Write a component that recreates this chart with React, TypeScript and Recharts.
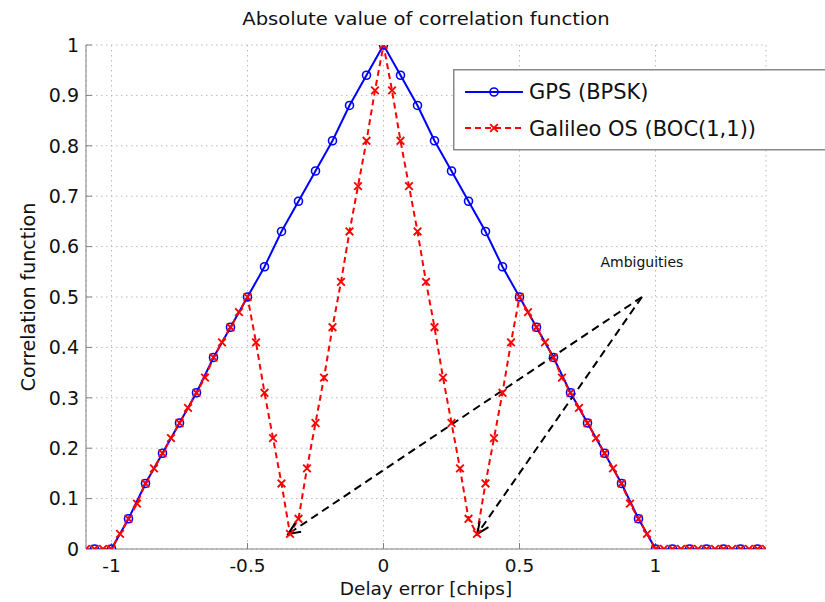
import { LineChart, Line, XAxis, YAxis, CartesianGrid, Legend, ReferenceLine, ReferenceDot, Label } from "recharts"

const gpsDelay = [
  -1.0625, -1, -0.9375, -0.875, -0.8125, -0.75, -0.6875, -0.625, -0.5625, -0.5,
  -0.4375, -0.375, -0.3125, -0.25, -0.1875, -0.125, -0.0625, 0, 0.0625, 0.125,
  0.1875, 0.25, 0.3125, 0.375, 0.4375, 0.5, 0.5625, 0.625, 0.6875, 0.75,
  0.8125, 0.875, 0.9375, 1, 1.0625, 1.125, 1.1875, 1.25, 1.3125, 1.375,
]
const gpsValue = [
  0, 0, 0.06, 0.13, 0.19, 0.25, 0.31, 0.38, 0.44, 0.5,
  0.56, 0.63, 0.69, 0.75, 0.81, 0.88, 0.94, 1, 0.94, 0.88,
  0.81, 0.75, 0.69, 0.63, 0.56, 0.5, 0.44, 0.38, 0.31, 0.25,
  0.19, 0.13, 0.06, 0, 0, 0, 0, 0, 0, 0,
]

const bocDelay = [
  -1.09375, -1.0625, -1.03125, -1, -0.96875, -0.9375, -0.90625, -0.875, -0.84375, -0.8125,
  -0.78125, -0.75, -0.71875, -0.6875, -0.65625, -0.625, -0.59375, -0.5625, -0.53125, -0.5,
  -0.46875, -0.4375, -0.40625, -0.375, -0.34375, -0.3125, -0.28125, -0.25, -0.21875, -0.1875,
  -0.15625, -0.125, -0.09375, -0.0625, -0.03125, 0, 0.03125, 0.0625, 0.09375, 0.125,
  0.15625, 0.1875, 0.21875, 0.25, 0.28125, 0.3125, 0.34375, 0.375, 0.40625, 0.4375,
  0.46875, 0.5, 0.53125, 0.5625, 0.59375, 0.625, 0.65625, 0.6875, 0.71875, 0.75,
  0.78125, 0.8125, 0.84375, 0.875, 0.90625, 0.9375, 0.96875, 1, 1.03125, 1.0625,
  1.09375, 1.125, 1.15625, 1.1875, 1.21875, 1.25, 1.28125, 1.3125, 1.34375, 1.375,
  1.40625,
]
const bocValue = [
  0, 0, 0, 0, 0.03, 0.06, 0.09, 0.13, 0.16, 0.19,
  0.22, 0.25, 0.28, 0.31, 0.34, 0.38, 0.41, 0.44, 0.47, 0.5,
  0.41, 0.31, 0.22, 0.13, 0.03, 0.06, 0.16, 0.25, 0.34, 0.44,
  0.53, 0.63, 0.72, 0.81, 0.91, 1, 0.91, 0.81, 0.72, 0.63,
  0.53, 0.44, 0.34, 0.25, 0.16, 0.06, 0.03, 0.13, 0.22, 0.31,
  0.41, 0.5, 0.47, 0.44, 0.41, 0.38, 0.34, 0.31, 0.28, 0.25,
  0.22, 0.19, 0.16, 0.13, 0.09, 0.06, 0.03, 0, 0, 0,
  0, 0, 0, 0, 0, 0, 0, 0, 0, 0,
  0,
]

const xTicks = [-1, -0.5, 0, 0.5, 1]
const yTicks = [0, 0.1, 0.2, 0.3, 0.4, 0.5, 0.6, 0.7, 0.8, 0.9, 1]

// arrows of the "Ambiguities" note: from the label anchor to the two side minima
const noteAnchor = { x: 0.95, y: 0.5 }
const noteTargets = [
  { x: -0.35, y: 0.03 },
  { x: 0.345, y: 0.03 },
]

const gpsData = gpsDelay.map((x, i) => ({ x, y: gpsValue[i] }))
const bocData = bocDelay.map((x, i) => ({ x, y: bocValue[i] }))

const FONT = '"DejaVu Sans", "Liberation Sans", Arial, sans-serif'

const CrossDot = (props: any) => {
  const { cx, cy } = props
  if (cx == null || cy == null) return <g />
  const s = 3.8
  return (
    <path
      d={`M${cx - s},${cy - s}L${cx + s},${cy + s}M${cx - s},${cy + s}L${cx + s},${cy - s}`}
      stroke="#ff0000"
      strokeWidth={1.9}
      fill="none"
    />
  )
}

const DashedArrow = (props: any) => {
  const { x1, y1, x2, y2 } = props
  const ang = Math.atan2(y2 - y1, x2 - x1)
  const len = 13
  const spread = 0.42
  const ax = x2 - len * Math.cos(ang - spread)
  const ay = y2 - len * Math.sin(ang - spread)
  const bx = x2 - len * Math.cos(ang + spread)
  const by = y2 - len * Math.sin(ang + spread)
  return (
    <g>
      <line x1={x1} y1={y1} x2={x2} y2={y2} stroke="#000" strokeWidth={2} strokeDasharray="8 5" />
      <path d={`M${ax},${ay}L${x2},${y2}L${bx},${by}`} stroke="#000" strokeWidth={2} fill="none" />
    </g>
  )
}

const NoteText = (props: any) => (
  <text x={props.cx} y={props.cy} textAnchor="middle" fontFamily={FONT} fontSize={14} fill="#111">
    Ambiguities
  </text>
)

const LegendBox = () => (
  <svg width={380} height={82} style={{ display: "block" }}>
    <rect x={0.75} y={0.75} width={378} height={80} fill="#fff" stroke="#888" strokeWidth={1.5} />
    <line x1={12} y1={23} x2={70} y2={23} stroke="#0000ff" strokeWidth={2} />
    <circle cx={41} cy={23} r={4} fill="none" stroke="#0000ff" strokeWidth={1.6} />
    <text x={76} y={30} fontFamily={FONT} fontSize={21} fill="#111">GPS (BPSK)</text>
    <line x1={12} y1={59} x2={70} y2={59} stroke="#ff0000" strokeWidth={2} strokeDasharray="6 4" />
    <CrossDot cx={41} cy={59} />
    <text x={76} y={67} fontFamily={FONT} fontSize={21} fill="#111">Galileo OS (BOC(1,1))</text>
  </svg>
)

export default function App() {
  return (
    <div style={{ position: "absolute", left: 0, top: 0, width: 825, height: 602, background: "#fff", fontFamily: FONT }}>
      <div
        style={{
          position: "absolute",
          left: 0,
          top: 9,
          width: 852,
          textAlign: "center",
          fontSize: 17,
          lineHeight: "20px",
          color: "#111",
          transform: "scaleX(1.15)",
          transformOrigin: "426px 0",
        }}
      >
        Absolute value of correlation function
      </div>
      <LineChart width={825} height={602} data={gpsData} margin={{ top: 45, right: 59, bottom: 0, left: 0 }}>
        <CartesianGrid stroke="#bbb" strokeDasharray="1.5 3.5" />
        <XAxis
          type="number"
          dataKey="x"
          domain={[-1.09375, 1.40625]}
          ticks={xTicks}
          allowDataOverflow
          height={53}
          stroke="#808080"
          tickSize={-6}
          tickMargin={15.5}
          tick={{ fill: "#111", fontSize: 18.5, fontFamily: FONT }}
        >
          <Label value="Delay error [chips]" position="insideBottom" offset={7} fill="#111" fontSize={18.5} fontFamily={FONT} />
        </XAxis>
        <YAxis
          type="number"
          domain={[0, 1]}
          ticks={yTicks}
          allowDataOverflow
          width={86}
          stroke="#808080"
          tickSize={-6}
          tickMargin={13}
          tick={{ fill: "#111", fontSize: 19, fontFamily: FONT }}
        >
          <Label
            value="Correlation function"
            angle={-90}
            position="insideLeft"
            offset={28}
            textAnchor="middle"
            fill="#111"
            fontSize={19}
            fontFamily={FONT}
          />
        </YAxis>
        <Line
          data={gpsData}
          dataKey="y"
          type="linear"
          stroke="#0000ff"
          strokeWidth={2}
          dot={{ r: 4, fill: "none", stroke: "#0000ff", strokeWidth: 1.6 }}
          isAnimationActive={false}
        />
        <Line
          data={bocData}
          dataKey="y"
          type="linear"
          stroke="#ff0000"
          strokeWidth={2}
          strokeDasharray="6 4"
          dot={<CrossDot />}
          isAnimationActive={false}
        />
        {noteTargets.map((t, i) => (
          <ReferenceLine key={i} segment={[noteAnchor, t]} shape={<DashedArrow />} />
        ))}
        <ReferenceDot x={0.95} y={0.56} r={0} shape={<NoteText />} />
        <Legend
          layout="horizontal"
          verticalAlign="middle"
          align="center"
          content={() => <LegendBox />}
          wrapperStyle={{ left: 453, top: 69, width: 380, height: 82 }}
        />
      </LineChart>
    </div>
  )
}
